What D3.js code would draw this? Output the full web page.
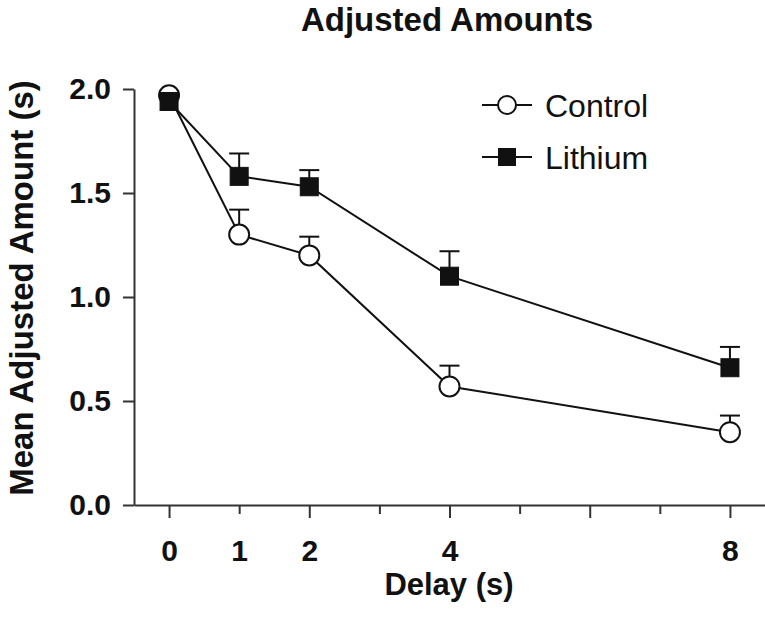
<!DOCTYPE html>
<html>
<head>
<meta charset="utf-8">
<script src="https://cdn.jsdelivr.net/npm/d3@7/dist/d3.min.js"></script>
<style>
  html, body { margin: 0; padding: 0; background: #fff; }
  svg { display: block; }
  text { font-family: "Liberation Sans", Arial, Helvetica, sans-serif; fill: #111; }
</style>
</head>
<body>
<svg id="chart" width="765" height="621"></svg>
<script>
// ---- data ----
const delays = [0, 1, 2, 4, 8];
const controlMeans = [1.97, 1.30, 1.20, 0.57, 0.35];
const controlSEM   = [0.02, 0.12, 0.09, 0.10, 0.08];
const lithiumMeans = [1.94, 1.58, 1.53, 1.10, 0.66];
const lithiumSEM   = [0.02, 0.11, 0.08, 0.12, 0.10];
const xTickValues = [0, 1, 2, 3, 4, 5, 6, 7, 8];
const xTickLabels = [0, 1, 2, 4, 8];
const yTickValues = [0, 0.5, 1.0, 1.5, 2.0];
const seriesNames = ["Control", "Lithium"];
const titleText = "Adjusted Amounts";
const xTitle = "Delay (s)";
const yTitle = "Mean Adjusted Amount (s)";

// ---- layout ----
const svg = d3.select("#chart");
const x = d3.scaleLinear().domain([-0.5, 8.5]).range([134, 765]);
const y = d3.scaleLinear().domain([0, 2]).range([505, 89]);

const axisColor = "#333";

// title
svg.append("text")
  .attr("x", 447).attr("y", 31)
  .attr("text-anchor", "middle")
  .attr("font-weight", "bold")
  .attr("font-size", 33)
  .text(titleText);

// y axis
const yAxis = svg.append("g")
  .attr("transform", `translate(${x(-0.5)},0)`)
  .call(d3.axisLeft(y).tickValues(yTickValues).tickFormat(d3.format(".1f"))
        .tickSizeInner(11).tickSizeOuter(0).tickPadding(12));
yAxis.select(".domain").attr("stroke", axisColor).attr("stroke-width", 2);
yAxis.selectAll(".tick line").attr("stroke", axisColor).attr("stroke-width", 2);
yAxis.selectAll(".tick text").attr("font-size", 30).attr("font-weight", "bold")
  .attr("fill", "#111").attr("font-family", "Liberation Sans, Arial, sans-serif");

// x axis
const xAxis = svg.append("g")
  .attr("transform", `translate(0,${y(0)})`)
  .call(d3.axisBottom(x).tickValues(xTickValues)
        .tickFormat(d => xTickLabels.includes(d) ? d : "")
        .tickSizeInner(13).tickSizeOuter(0).tickPadding(22));
xAxis.select(".domain").attr("stroke", axisColor).attr("stroke-width", 2);
xAxis.selectAll(".tick line").attr("stroke", axisColor).attr("stroke-width", 2)
  .attr("y2", d => d % 2 === 0 ? 13 : 9);
xAxis.selectAll(".tick text").attr("font-size", 30).attr("font-weight", "bold")
  .attr("fill", "#111").attr("font-family", "Liberation Sans, Arial, sans-serif");

// axis titles
svg.append("text")
  .attr("x", 449).attr("y", 595)
  .attr("text-anchor", "middle")
  .attr("font-weight", "bold")
  .attr("font-size", 31)
  .text(xTitle);

svg.append("text")
  .attr("transform", `translate(33,288) rotate(-90)`)
  .attr("text-anchor", "middle")
  .attr("font-weight", "bold")
  .attr("font-size", 33)
  .text(yTitle);

// series
const series = [
  { name: seriesNames[0], means: controlMeans, sem: controlSEM, shape: "circle" },
  { name: seriesNames[1], means: lithiumMeans, sem: lithiumSEM, shape: "square" }
];
const line = d3.line().x(d => x(d.x)).y(d => y(d.y));

series.forEach(s => {
  const pts = delays.map((d, i) => ({ x: d, y: s.means[i], e: s.sem[i] }));
  const g = svg.append("g");
  g.append("path").datum(pts).attr("d", line)
    .attr("fill", "none").attr("stroke", "#111").attr("stroke-width", 2);
  // error bars (upward)
  g.selectAll(".eb").data(pts).enter().append("line")
    .attr("x1", d => x(d.x)).attr("x2", d => x(d.x))
    .attr("y1", d => y(d.y)).attr("y2", d => y(d.y + d.e))
    .attr("stroke", "#111").attr("stroke-width", 2);
  g.selectAll(".cap").data(pts).enter().append("line")
    .attr("x1", d => x(d.x) - 10).attr("x2", d => x(d.x) + 10)
    .attr("y1", d => y(d.y + d.e)).attr("y2", d => y(d.y + d.e))
    .attr("stroke", "#111").attr("stroke-width", 2);
  if (s.shape === "circle") {
    g.selectAll(".m").data(pts).enter().append("circle")
      .attr("cx", d => x(d.x)).attr("cy", d => y(d.y)).attr("r", 10)
      .attr("fill", "#fff").attr("stroke", "#111").attr("stroke-width", 2);
  } else {
    g.selectAll(".m").data(pts).enter().append("rect")
      .attr("x", d => x(d.x) - 9).attr("y", d => y(d.y) - 9)
      .attr("width", 18).attr("height", 18)
      .attr("fill", "#111").attr("stroke", "#111").attr("stroke-width", 1);
  }
});

// legend
const legend = svg.append("g");
series.forEach((s, i) => {
  const cy = 105 + i * 52;
  const lg = legend.append("g");
  lg.append("line").attr("x1", 482).attr("x2", 532).attr("y1", cy).attr("y2", cy)
    .attr("stroke", "#111").attr("stroke-width", 2);
  if (s.shape === "circle") {
    lg.append("circle").attr("cx", 507).attr("cy", cy).attr("r", 9)
      .attr("fill", "#fff").attr("stroke", "#111").attr("stroke-width", 2);
  } else {
    lg.append("rect").attr("x", 498).attr("y", cy - 9).attr("width", 18).attr("height", 18)
      .attr("fill", "#111");
  }
  lg.append("text").attr("x", 545).attr("y", cy + 12)
    .attr("font-size", 32)
    .text(s.name);
});
</script>
</body>
</html>
